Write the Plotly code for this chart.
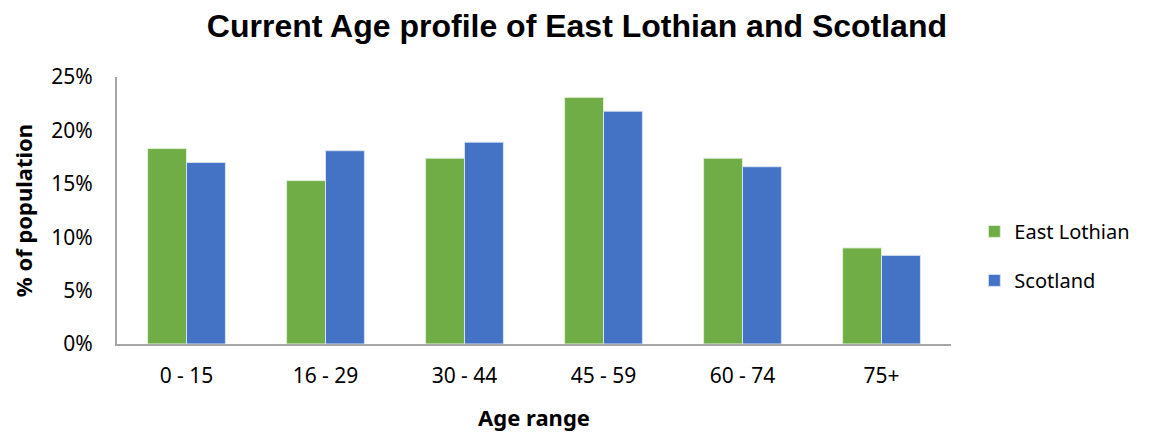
import plotly.graph_objects as go

age_ranges = ['0 - 15', '16 - 29', '30 - 44', '45 - 59', '60 - 74', '75+']
east_lothian = [18.3, 15.3, 17.4, 23.1, 17.4, 9.0]
scotland = [17.0, 18.1, 18.9, 21.8, 16.6, 8.3]

tick_font = dict(family='Noto Sans, Open Sans, sans-serif', size=21, color='#000000')
legend_font = dict(family='Noto Sans, Open Sans, sans-serif', size=20, color='#000000')
axis_title_font = dict(family='Noto Sans, Open Sans, sans-serif', size=22, color='#000000')

fig = go.Figure()
fig.add_trace(go.Bar(
    x=age_ranges, y=east_lothian, name='East Lothian',
    legendgroup='el',
    marker=dict(color='#70AD47', line=dict(color='#E2EFD9', width=1))
))
fig.add_trace(go.Bar(
    x=age_ranges, y=scotland, name='Scotland',
    legendgroup='sc',
    marker=dict(color='#4472C4', line=dict(color='#D9E2F3', width=1))
))

# page body has an 8px margin, so the figure is sized and offset to fit the window
fig.update_layout(
    width=1147, height=426,
    paper_bgcolor='white', plot_bgcolor='white',
    margin=dict(l=109, r=204, t=69, b=90, autoexpand=False),
    barmode='group', bargap=0.44, bargroupgap=0,
    title=dict(text='<b>Current Age profile of East Lothian and Scotland</b>',
               x=0.496, xanchor='center', y=0.958, yanchor='middle',
               font=dict(family='Liberation Sans, Arial, sans-serif', size=32, color='#000000')),
    legend=dict(x=1.028, xanchor='left', y=0.33, yanchor='middle',
                traceorder='grouped', tracegroupgap=20,
                font=legend_font),
    xaxis=dict(showline=True, linecolor='#A6A6A6', linewidth=2,
               ticks='', tickfont=tick_font, ticklabelstandoff=12,
               title=dict(text='<b>Age range</b>', standoff=22, font=axis_title_font)),
    yaxis=dict(range=[0, 25], dtick=5, ticksuffix='%', showgrid=False,
               showline=True, linecolor='#A6A6A6', linewidth=2,
               ticks='', tickfont=tick_font, zeroline=False, ticklabelstandoff=18,
               title=dict(text='<b>% of population</b>', standoff=18, font=axis_title_font)),
)

fig.write_html('out.html')
